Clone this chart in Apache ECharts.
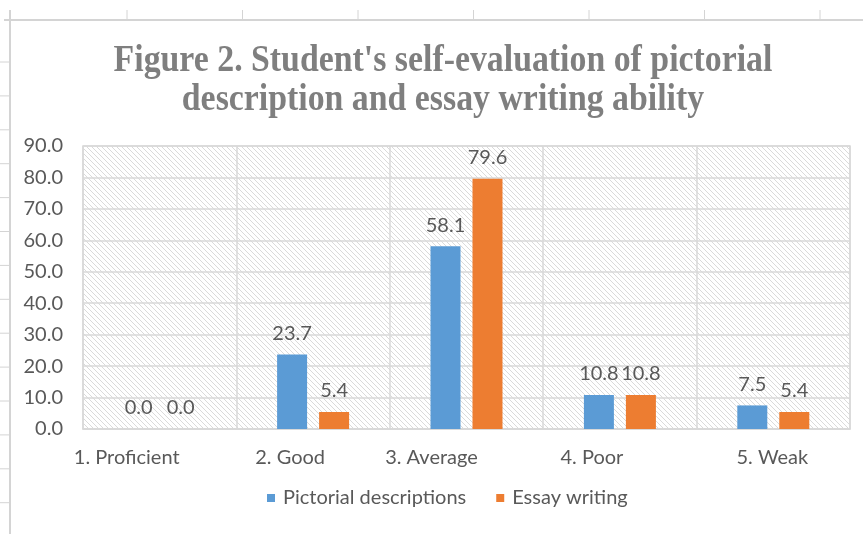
<!DOCTYPE html>
<html>
<head>
<meta charset="utf-8">
<script src="https://cdn.jsdelivr.net/npm/echarts@6/dist/echarts.min.js"></script>
<style>
  html, body { margin: 0; padding: 0; background: #ffffff; }
  #chart { width: 863px; height: 534px; }
</style>
</head>
<body>
<div id="chart"></div>
<script>
// Categories and survey percentages
const categories = ['1. Proficient', '2. Good', '3. Average', '4. Poor', '5. Weak'];
const pictorialValues = [0.0, 23.7, 58.1, 10.8, 7.5];
const essayValues = [0.0, 5.4, 79.6, 10.8, 5.4];
const seriesNames = ['Pictorial descriptions', 'Essay writing'];
const titleLines = ["Figure 2. Student's self-evaluation of pictorial", 'description and essay writing ability'];
const yMin = 0, yMax = 90, yStep = 10;

// Horizontal nudge (px, leftwards) of each category label
const labelNudge = [33, 23, 35, 28, 1];

// Diagonal hatch tile for the plot area background
function hatchTile() {
  const s = 5;
  const c = document.createElement('canvas');
  c.width = s; c.height = s;
  const g = c.getContext('2d');
  g.fillStyle = '#ffffff';
  g.fillRect(0, 0, s, s);
  g.strokeStyle = '#dadada';
  g.lineWidth = 1;
  g.beginPath();
  g.moveTo(-1, -1); g.lineTo(s + 1, s + 1);
  g.moveTo(-1, s - 1); g.lineTo(1, s + 1);
  g.moveTo(s - 1, -1); g.lineTo(s + 1, 1);
  g.stroke();
  return c;
}

// Worksheet cell lines around the chart object
const sheetLines = [];
const sheetColor = '#d4d4d4';
sheetLines.push({ type: 'line', shape: { x1: 4, y1: 20, x2: 863, y2: 20 }, style: { stroke: sheetColor, lineWidth: 2 }, silent: true });
sheetLines.push({ type: 'line', shape: { x1: 10, y1: 10, x2: 10, y2: 534 }, style: { stroke: sheetColor, lineWidth: 2 }, silent: true });
for (let i = 0; i < 7; i++) {
  const x = 127 + i * 115.5;
  sheetLines.push({ type: 'line', shape: { x1: x, y1: 10, x2: x, y2: 20 }, style: { stroke: sheetColor, lineWidth: 1 }, silent: true });
}
for (let i = 0; i < 14; i++) {
  const y = 62 + i * 33.9;
  sheetLines.push({ type: 'line', shape: { x1: 0, y1: y, x2: 10, y2: y }, style: { stroke: sheetColor, lineWidth: 1 }, silent: true });
}

const titleFont = 'bold 38px "Liberation Serif", "Times New Roman", serif';
const titleGraphics = titleLines.map((t, i) => ({
  type: 'text',
  x: 443,
  y: 61 + i * 39,
  scaleX: 0.89,
  style: {
    text: t,
    font: titleFont,
    fill: '#7f7f7f',
    textAlign: 'center',
    textVerticalAlign: 'middle'
  },
  silent: true
}));

const labelColor = '#595959';
const labelFont = 'Lato, "Open Sans", sans-serif';
const labelSize = 20;
const gridLineColor = '#d9d9d9';

// One rich style per category label, padded on the right to shift it left
const categoryRich = {};
labelNudge.forEach((d, i) => {
  categoryRich['c' + i] = {
    color: labelColor, fontFamily: labelFont, fontSize: labelSize,
    padding: [0, 2 * d, 0, 0]
  };
});

const chart = echarts.init(document.getElementById('chart'), null, { renderer: 'canvas' });
chart.setOption({
  backgroundColor: '#ffffff',
  animation: false,
  graphic: sheetLines.concat(titleGraphics),
  legend: {
    data: seriesNames,
    bottom: 21,
    left: 262,
    itemWidth: 8,
    itemHeight: 8,
    itemGap: 30,
    icon: 'rect',
    textStyle: { color: labelColor, fontFamily: labelFont, fontSize: labelSize, padding: [0, 0, 0, 3] }
  },
  grid: {
    left: 83, right: 13, top: 146, bottom: 105,
    show: true,
    backgroundColor: { image: hatchTile(), repeat: 'repeat' },
    borderColor: gridLineColor,
    borderWidth: 1.5
  },
  xAxis: {
    type: 'category',
    data: categories,
    axisLine: { show: true, lineStyle: { color: gridLineColor, width: 1.5 } },
    axisTick: { show: false },
    splitLine: { show: true, interval: 0, lineStyle: { color: gridLineColor, width: 1.5 } },
    axisLabel: {
      interval: 0,
      hideOverlap: false,
      color: labelColor, fontFamily: labelFont, fontSize: labelSize, margin: 19,
      formatter: (v, i) => '{c' + i + '|' + v + '}',
      rich: categoryRich
    }
  },
  yAxis: {
    type: 'value',
    min: yMin, max: yMax, interval: yStep,
    axisLine: { show: false },
    axisTick: { show: false },
    splitLine: { show: true, lineStyle: { color: gridLineColor, width: 1.5 } },
    axisLabel: {
      color: labelColor, fontFamily: labelFont, fontSize: labelSize, margin: 20,
      formatter: v => v.toFixed(1)
    }
  },
  series: [
    {
      name: seriesNames[0],
      type: 'bar',
      data: pictorialValues,
      barWidth: 30,
      barGap: '40%',
      itemStyle: { color: '#5b9bd5' },
      label: {
        show: true, position: 'top', distance: 11,
        color: labelColor, fontFamily: labelFont, fontSize: labelSize,
        formatter: p => p.value.toFixed(1)
      }
    },
    {
      name: seriesNames[1],
      type: 'bar',
      data: essayValues,
      barWidth: 30,
      barGap: '40%',
      itemStyle: { color: '#ed7d31' },
      label: {
        show: true, position: 'top', distance: 11,
        color: labelColor, fontFamily: labelFont, fontSize: labelSize,
        formatter: p => p.value.toFixed(1)
      }
    }
  ]
});
</script>
</body>
</html>
